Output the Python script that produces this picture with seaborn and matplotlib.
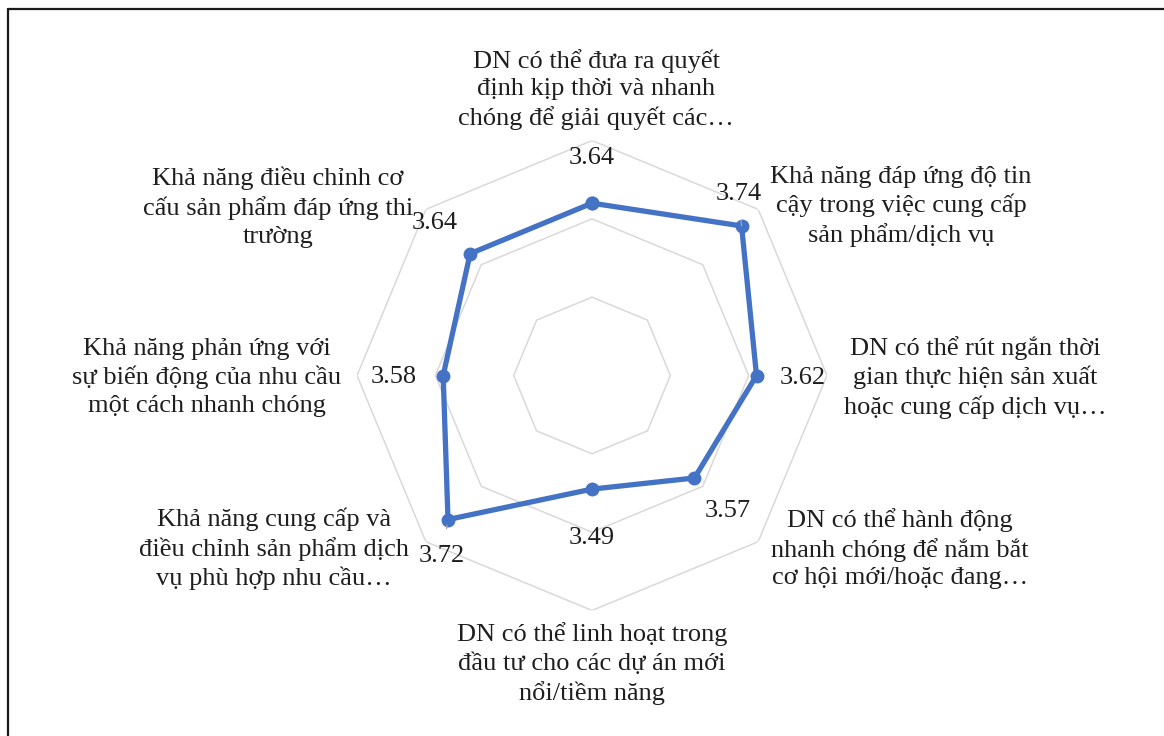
import numpy as np
import pandas as pd
import matplotlib.pyplot as plt
import seaborn as sns

# categories clockwise from the top
categories = [
    "DN có thể đưa ra quyết\nđịnh kịp thời và nhanh\nchóng để giải quyết các…",
    "Khả năng đáp ứng độ tin\ncậy trong việc cung cấp\nsản phẩm/dịch vụ",
    "DN có thể rút ngắn thời\ngian thực hiện sản xuất\nhoặc cung cấp dịch vụ…",
    "DN có thể hành động\nnhanh chóng để nắm bắt\ncơ hội mới/hoặc đang…",
    "DN có thể linh hoạt trong\nđầu tư cho các dự án mới\nnổi/tiềm năng",
    "Khả năng cung cấp và\nđiều chỉnh sản phẩm dịch\nvụ phù hợp nhu cầu…",
    "Khả năng phản ứng với\nsự biến động của nhu cầu\nmột cách nhanh chóng",
    "Khả năng điều chỉnh cơ\ncấu sản phẩm đáp ứng thi\ntrường",
]
scores = [3.64, 3.74, 3.62, 3.57, 3.49, 3.72, 3.58, 3.64]
ring_levels = [3.4, 3.6, 3.8]
r_min, r_max = 3.2, 3.8

# label offsets in pixels (x right, y up)
cat_offsets = [(4, 51), (143, 3), (148, -2), (142, -7),
               (0, -53), (-152, -7), (-150, -2), (-148, 2)]
val_offsets = [(0, 45), (-3, 32), (46, -2), (33, -33),
               (0, -49), (-6, -36), (-49, -1), (-35, 31)]
leader = [False, True, False, False, False, True, False, False]

sns.set_style('white')
plt.rcParams['font.family'] = ['Liberation Serif', 'DejaVu Serif']
text_color = '#1e1e1e'
px = 72 / 100

fig = plt.figure(figsize=(11.64, 7.36), dpi=100)
ax = fig.add_axes([0.3067, 0.1705, 0.4038, 0.6386], projection='polar')
ax.set_theta_zero_location('N')
ax.set_theta_direction(-1)

n = len(scores)
angles = np.linspace(0, 2 * np.pi, n, endpoint=False)
closed_angles = np.append(angles, 2 * np.pi)

# octagon grid
for level in ring_levels:
    ax.plot(closed_angles, [level] * (n + 1), color='#D9D9D9', lw=1.1, zorder=1)

df = pd.DataFrame({'angle': closed_angles, 'score': scores + scores[:1]})
sns.lineplot(data=df, x='angle', y='score', sort=False, estimator=None, ax=ax,
             color='#4472C4', linewidth=3.8, marker='o', markersize=10,
             markeredgewidth=0, zorder=3)

ax.set_ylim(r_min, r_max)
ax.grid(False)
ax.spines['polar'].set_visible(False)
ax.set_xticks([])
ax.set_yticks([])
ax.set_xlabel('')
ax.set_ylabel('')
ax.patch.set_alpha(0)

for a, s, (dx, dy), ld in zip(angles, scores, val_offsets, leader):
    kw = {}
    if ld:
        kw['arrowprops'] = dict(arrowstyle='-', color='#A6A6A6', lw=0.9,
                                shrinkA=9, shrinkB=4)
    ax.annotate(f"{s:.2f}", xy=(a, s), xytext=(dx * px, dy * px),
                textcoords='offset points', ha='center', va='center',
                fontsize=19, color=text_color, annotation_clip=False, **kw)

for a, c, (dx, dy) in zip(angles, categories, cat_offsets):
    ax.annotate(c, xy=(a, r_max), xytext=(dx * px, dy * px),
                textcoords='offset points', ha='center', va='center',
                multialignment='center', fontsize=19, linespacing=1.32,
                color=text_color, annotation_clip=False)

# chart frame (only left and top edges visible in the crop)
fx, fy = 8 / 1164, 1 - 9 / 736
fig.add_artist(plt.Line2D([fx, fx], [0, fy], transform=fig.transFigure,
                          color='#1a1a1a', lw=1.6))
fig.add_artist(plt.Line2D([fx, 1], [fy, fy], transform=fig.transFigure,
                          color='#1a1a1a', lw=1.6))

fig.savefig('out.png', dpi=100, facecolor='white')
